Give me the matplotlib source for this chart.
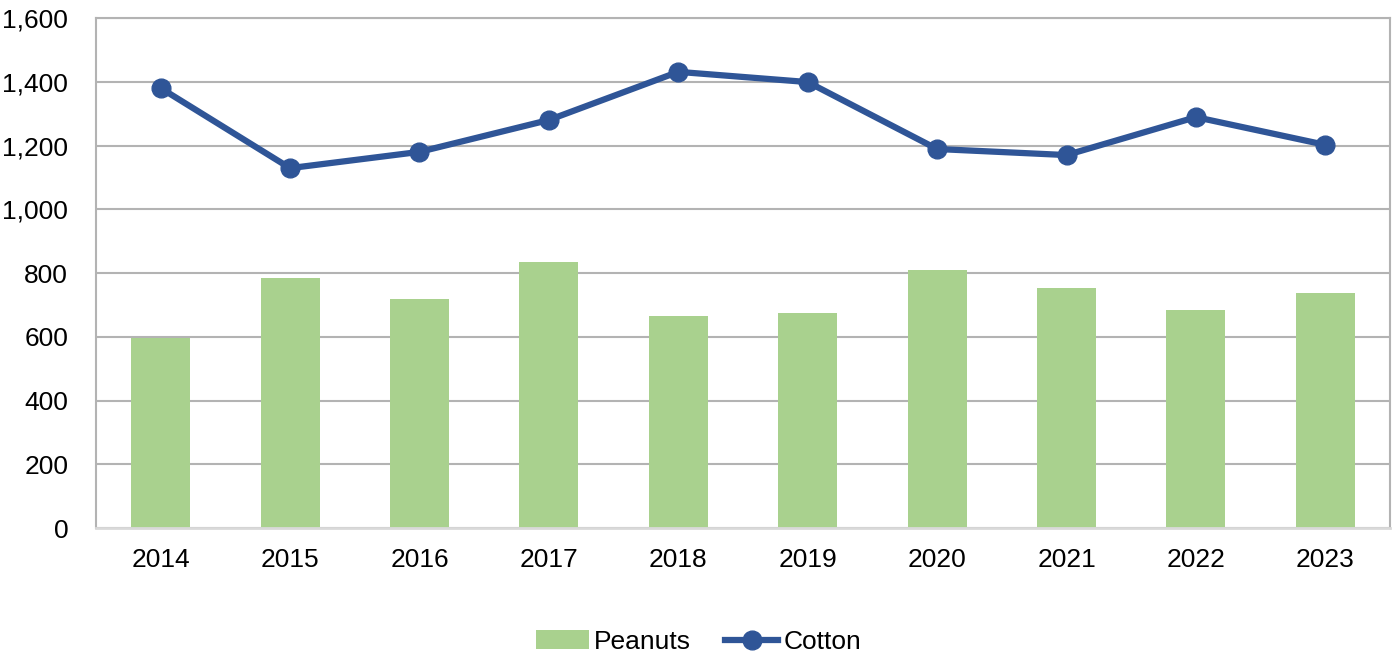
import matplotlib.pyplot as plt
import numpy as np

plt.rcParams['font.family'] = ['Liberation Sans', 'DejaVu Sans']

years = ['2014', '2015', '2016', '2017', '2018', '2019', '2020', '2021', '2022', '2023']
peanuts = [597, 784, 718, 834, 665, 674, 809, 753, 684, 737]
cotton = [1380, 1129, 1180, 1280, 1431, 1399, 1189, 1170, 1289, 1202]

fig = plt.figure(figsize=(13.97, 6.56), dpi=100)
ax = fig.add_axes([0.0687, 0.195, 0.9263, 0.7776])

x = np.arange(len(years))
bars = ax.bar(x, peanuts, width=0.455, color='#a9d18e', label='Peanuts', zorder=2)
line, = ax.plot(x, cotton, color='#2f5597', lw=4.5, marker='o', ms=13.5,
                label='Cotton', zorder=3)

ax.set_xlim(-0.5, len(years) - 0.5)
ax.set_ylim(0, 1600)
ax.set_yticks(range(0, 1601, 200))
ax.set_yticklabels([f'{v:,}' for v in range(0, 1601, 200)])
ax.set_xticks(x)
ax.set_xticklabels(years)
ax.tick_params(labelsize=19, length=0, colors='black')
ax.tick_params(axis='x', pad=14)
ax.tick_params(axis='y', pad=20)
ax.grid(axis='y', color='#b3b3b3', lw=1.5, zorder=0)
for s in ['left', 'top', 'right']:
    ax.spines[s].set_color('#b3b3b3')
    ax.spines[s].set_linewidth(1.5)
ax.spines['bottom'].set_color('#d9d9d9')
ax.spines['bottom'].set_linewidth(2)

fig.legend([bars, line], ['Peanuts', 'Cotton'], loc='lower center',
           bbox_to_anchor=(0.5, -0.033), ncol=2, frameon=False,
           fontsize=19, handlelength=2.0, handletextpad=0.2, columnspacing=1.3)

fig.savefig('out.png', dpi=100)
